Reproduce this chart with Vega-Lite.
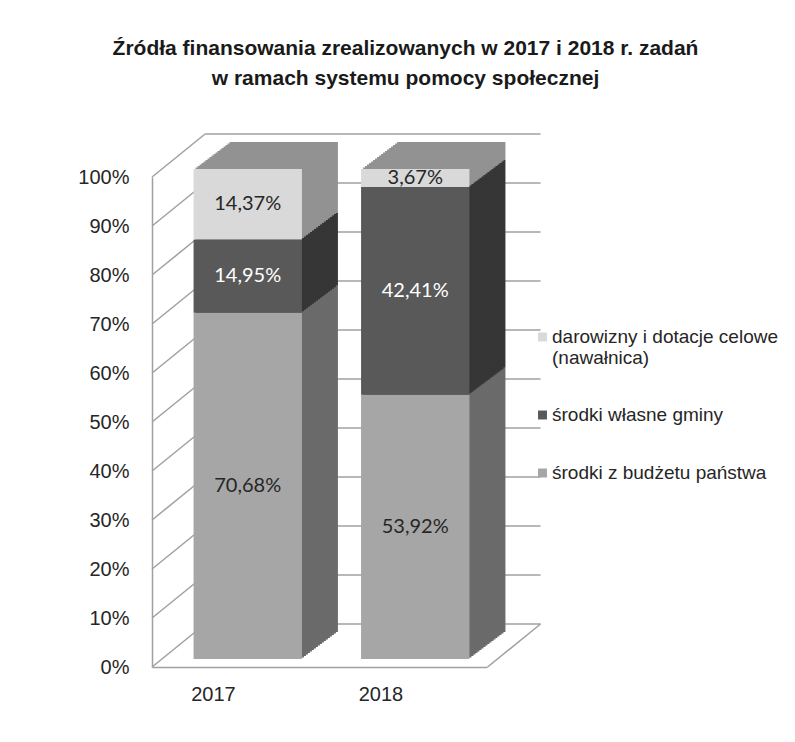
{
  "$schema": "https://vega.github.io/schema/vega-lite/v6.json",
  "width": 335,
  "height": 490,
  "autosize": "none",
  "padding": {"left": 152, "top": 177, "right": 308, "bottom": 75},
  "background": "white",
  "title": {
    "text": ["Źródła finansowania zrealizowanych  w 2017 i 2018 r. zadań", "w ramach systemu pomocy społecznej"],
    "font": "Liberation Sans",
    "fontWeight": "bold",
    "fontSize": 21,
    "lineHeight": 30,
    "color": "#1a1a1a",
    "anchor": "middle",
    "frame": "group",
    "dx": 86,
    "offset": 44
  },
  "datasets": {
    "bars": [
      {"year": "2017", "source": "środki z budżetu państwa", "share": 0.7068},
      {"year": "2017", "source": "środki własne gminy", "share": 0.1495},
      {"year": "2017", "source": "darowizny i dotacje celowe (nawałnica)", "share": 0.1437},
      {"year": "2018", "source": "środki z budżetu państwa", "share": 0.5392},
      {"year": "2018", "source": "środki własne gminy", "share": 0.4241},
      {"year": "2018", "source": "darowizny i dotacje celowe (nawałnica)", "share": 0.0367}
    ],
    "ticks": [
      {"v": 0}, {"v": 0.1}, {"v": 0.2}, {"v": 0.3}, {"v": 0.4}, {"v": 0.5},
      {"v": 0.6}, {"v": 0.7}, {"v": 0.8}, {"v": 0.9}, {"v": 1}
    ]
  },
  "layer": [
    {
      "data": {"name": "ticks"},
      "mark": {"type": "rule", "color": "#a0a0a0", "strokeWidth": 1.5, "xOffset": 23.5, "x2Offset": 191.5, "yOffset": -43, "y2Offset": -43},
      "encoding": {
        "x": {"datum": "2017", "bandPosition": 0},
        "x2": {"datum": "2018", "bandPosition": 0},
        "y": {"field": "v", "type": "quantitative", "title": null},
        "y2": {"field": "v"}
      }
    },
    {
      "data": {"name": "ticks"},
      "mark": {"type": "rule", "color": "#a0a0a0", "strokeWidth": 1.5, "xOffset": -29.5, "x2Offset": 23.5, "y2Offset": -43},
      "encoding": {
        "x": {"datum": "2017", "bandPosition": 0},
        "x2": {"datum": "2017", "bandPosition": 0},
        "y": {"field": "v", "type": "quantitative", "title": null},
        "y2": {"field": "v"}
      }
    },
    {
      "data": {"name": "ticks"},
      "transform": [{"filter": "datum.v == 0"}],
      "mark": {"type": "rule", "color": "#a0a0a0", "strokeWidth": 1.5, "xOffset": 138.5, "x2Offset": 191.5, "y2Offset": -43},
      "encoding": {
        "x": {"datum": "2018", "bandPosition": 0},
        "x2": {"datum": "2018", "bandPosition": 0},
        "y": {"field": "v", "type": "quantitative", "title": null},
        "y2": {"field": "v"}
      }
    },
    {
      "data": {"name": "bars"},
      "encoding": {
        "x": {
          "field": "year",
          "type": "nominal",
          "scale": {"paddingInner": 0.353, "paddingOuter": 0.1765},
          "axis": {
            "title": null,
            "labelAngle": 0,
            "labelFont": "Liberation Sans",
            "labelFontSize": 20,
            "labelColor": "#262626",
            "labelPadding": 27,
            "ticks": false,
            "domainColor": "#a0a0a0",
            "domainWidth": 1.5
          }
        },
        "y": {
          "field": "share",
          "type": "quantitative",
          "stack": "zero",
          "title": null,
          "scale": {"domain": [0, 1], "nice": false},
          "axis": {
            "title": null,
            "values": [0, 0.1, 0.2, 0.3, 0.4, 0.5, 0.6, 0.7, 0.8, 0.9, 1],
            "format": ".0%",
            "labelFont": "Liberation Sans",
            "labelFontSize": 20,
            "labelColor": "#262626",
            "labelPadding": 23,
            "ticks": false,
            "grid": false,
            "domainColor": "#a0a0a0",
            "domainWidth": 1.5
          }
        },
        "order": {"field": "source", "sort": "descending"}
      },
      "layer": [
        {
          "encoding": {
            "fill": {
              "field": "source",
              "type": "nominal",
              "scale": {
                "domain": ["środki z budżetu państwa", "środki własne gminy", "darowizny i dotacje celowe (nawałnica)"],
                "range": ["#6b6b6b", "#363636", "#929292"]
              },
              "legend": null
            }
          },
          "layer": [
            {"mark": {"type": "bar", "xOffset": 48, "x2Offset": 48, "yOffset": -35, "y2Offset": -35}},
            {"mark": {"type": "bar", "xOffset": 46, "x2Offset": 46, "yOffset": -33.5, "y2Offset": -33.5}},
            {"mark": {"type": "bar", "xOffset": 44, "x2Offset": 44, "yOffset": -32, "y2Offset": -32}},
            {"mark": {"type": "bar", "xOffset": 42, "x2Offset": 42, "yOffset": -30.5, "y2Offset": -30.5}},
            {"mark": {"type": "bar", "xOffset": 40, "x2Offset": 40, "yOffset": -29, "y2Offset": -29}},
            {"mark": {"type": "bar", "xOffset": 38, "x2Offset": 38, "yOffset": -27.5, "y2Offset": -27.5}},
            {"mark": {"type": "bar", "xOffset": 36, "x2Offset": 36, "yOffset": -26, "y2Offset": -26}},
            {"mark": {"type": "bar", "xOffset": 34, "x2Offset": 34, "yOffset": -24.5, "y2Offset": -24.5}},
            {"mark": {"type": "bar", "xOffset": 32, "x2Offset": 32, "yOffset": -23, "y2Offset": -23}},
            {"mark": {"type": "bar", "xOffset": 30, "x2Offset": 30, "yOffset": -21.5, "y2Offset": -21.5}},
            {"mark": {"type": "bar", "xOffset": 28, "x2Offset": 28, "yOffset": -20, "y2Offset": -20}},
            {"mark": {"type": "bar", "xOffset": 26, "x2Offset": 26, "yOffset": -18.5, "y2Offset": -18.5}},
            {"mark": {"type": "bar", "xOffset": 24, "x2Offset": 24, "yOffset": -17, "y2Offset": -17}},
            {"mark": {"type": "bar", "xOffset": 22, "x2Offset": 22, "yOffset": -15.5, "y2Offset": -15.5}},
            {"mark": {"type": "bar", "xOffset": 20, "x2Offset": 20, "yOffset": -14, "y2Offset": -14}},
            {"mark": {"type": "bar", "xOffset": 18, "x2Offset": 18, "yOffset": -12.5, "y2Offset": -12.5}},
            {"mark": {"type": "bar", "xOffset": 16, "x2Offset": 16, "yOffset": -11, "y2Offset": -11}},
            {"mark": {"type": "bar", "xOffset": 14, "x2Offset": 14, "yOffset": -9.5, "y2Offset": -9.5}}
          ]
        },
        {
          "mark": {"type": "bar", "xOffset": 12, "x2Offset": 12, "yOffset": -8, "y2Offset": -8},
          "encoding": {
            "color": {
              "field": "source",
              "type": "nominal",
              "scale": {
                "domain": ["darowizny i dotacje celowe (nawałnica)", "środki własne gminy", "środki z budżetu państwa"],
                "range": ["#d9d9d9", "#595959", "#a6a6a6"]
              },
              "legend": {
                "orient": "none",
                "legendX": 381,
                "legendY": 149,
                "title": null,
                "symbolType": "square",
                "symbolSize": 80,
                "symbolStrokeWidth": 0,
                "labelFont": "Liberation Sans",
                "labelFontSize": 19,
                "labelColor": "#262626",
                "labelLimit": 400,
                "labelOffset": 0,
                "rowPadding": 36,
                "clipHeight": 22,
                "labelExpr": "datum.label == 'darowizny i dotacje celowe (nawałnica)' ? ['darowizny i dotacje celowe', '(nawałnica)'] : datum.label"
              }
            }
          }
        },
        {
          "mark": {"type": "text", "font": "Lato", "fontSize": 20, "dx": 12, "dy": -8, "baseline": "middle", "align": "center"},
          "encoding": {
            "y": {"field": "share", "type": "quantitative", "stack": "zero", "bandPosition": 0.5},
            "detail": {"field": "source"},
            "text": {"field": "share", "type": "quantitative", "format": ".2%"},
            "color": {
              "condition": {"test": "datum.source === 'środki własne gminy'", "value": "#ffffff"},
              "value": "#262626"
            }
          }
        }
      ]
    }
  ],
  "config": {
    "view": {"stroke": null},
    "locale": {
      "number": {"decimal": ",", "thousands": " ", "grouping": [3], "currency": ["", " zł"]}
    }
  }
}
